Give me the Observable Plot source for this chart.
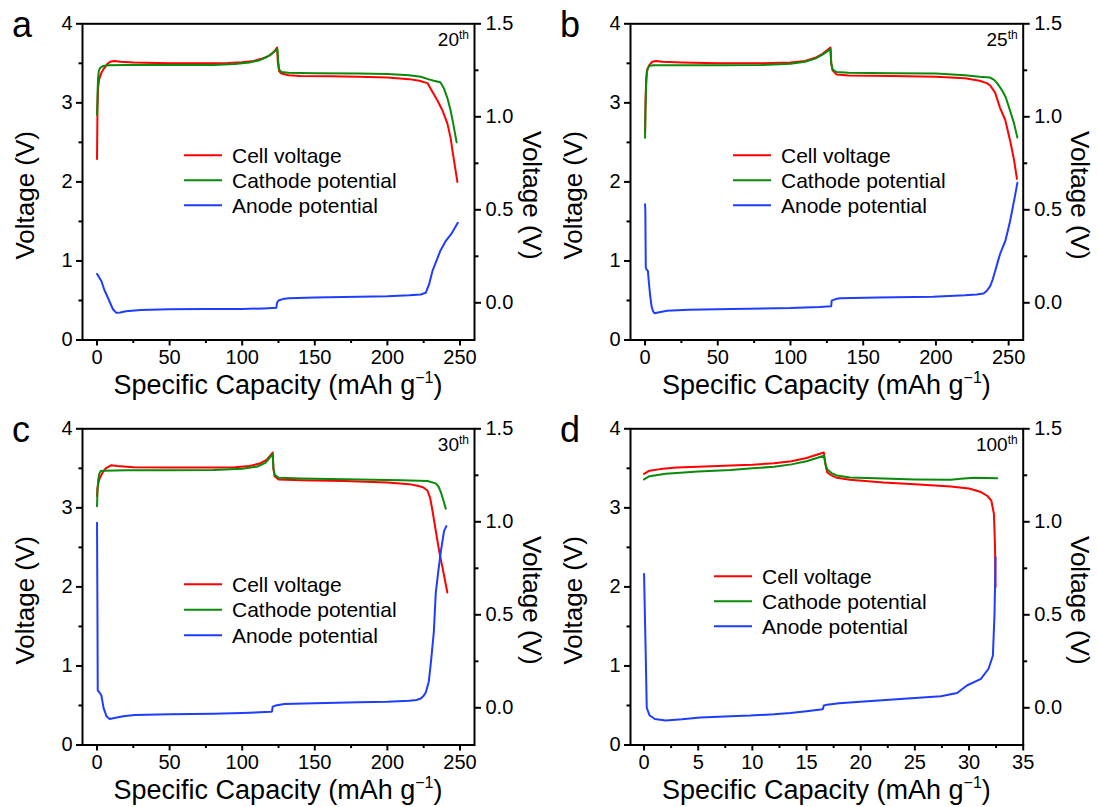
<!DOCTYPE html>
<html><head><meta charset="utf-8">
<script src="https://cdn.jsdelivr.net/npm/d3@7"></script>
<script src="https://cdn.jsdelivr.net/npm/@observablehq/plot@0.6"></script>
<style>
body{margin:0;background:#fff;}
#fig{position:relative;width:1098px;height:807px;overflow:hidden;font-family:"Liberation Sans",Arial,sans-serif;}
.panel{position:absolute;}
#overlay{position:absolute;left:0;top:0;pointer-events:none;}
</style></head><body><div id="fig"></div>
<script>
// ---------- data (capacity mAh/g, voltage V) ----------
const leftTicks = [0, 1, 2, 3, 4];
const leftMinor = [0.5, 1.5, 2.5, 3.5];
const rightTicks = [0.0, 0.5, 1.0, 1.5];
const rightMinor = [0.25, 0.75, 1.25];
const xTicks250 = [0, 50, 100, 150, 200, 250];
const xMinor250 = [25, 75, 125, 175, 225];
const xTicks35 = [0, 5, 10, 15, 20, 25, 30, 35];
const xMinor35 = [2.5, 7.5, 12.5, 17.5, 22.5, 27.5, 32.5];
const seriesNames = ["Cell voltage", "Cathode potential", "Anode potential"];
const cycles = ["20", "25", "30", "100"];
const panelLetters = ["a", "b", "c", "d"];

// panel a (20th cycle)
const aCell = [[0,2.29],[0.3,2.9],[0.8,3.2],[1.5,3.3],[3,3.38],[5,3.44],[7,3.49],[9,3.52],[12,3.53],[16,3.52],[25,3.51],[50,3.50],[75,3.50],[90,3.505],[100,3.515],[108,3.53],[114,3.56],[119,3.60],[122,3.65],[124,3.70],[124.6,3.50],[125.5,3.40],[127,3.37],[132,3.35],[140,3.34],[160,3.335],[180,3.33],[200,3.32],[215,3.30],[222,3.28],[227.6,3.25],[231,3.14],[234.5,3.03],[238,2.90],[241.3,2.74],[243.5,2.56],[244.8,2.40],[246.5,2.2],[248.2,2.0]];
const aCath = [[0,2.85],[0.3,3.1],[0.7,3.3],[1.2,3.40],[2,3.44],[4,3.465],[8,3.475],[20,3.48],[50,3.48],[80,3.48],[95,3.49],[105,3.51],[112,3.54],[117,3.58],[121,3.63],[124.3,3.68],[124.8,3.52],[125.5,3.42],[127,3.39],[132,3.38],[150,3.375],[180,3.37],[200,3.365],[215,3.35],[223,3.33],[228,3.30],[232,3.28],[236.5,3.26],[239,3.18],[241.5,3.05],[243.6,2.90],[245.2,2.75],[246.6,2.61],[247.7,2.50]];
const aAnode = [[0,0.155],[0.5,0.15],[3,0.117],[5,0.07],[7.5,0.027],[11,-0.035],[13.3,-0.054],[16,-0.052],[20,-0.045],[30,-0.039],[50,-0.035],[75,-0.034],[100,-0.033],[115,-0.03],[123.5,-0.027],[124,0.0],[125,0.012],[128,0.02],[132,0.025],[150,0.028],[180,0.032],[200,0.035],[215,0.04],[223,0.045],[226.4,0.054],[228.7,0.099],[231,0.17],[234.5,0.24],[236.5,0.28],[240,0.33],[244,0.37],[248.5,0.43]];

// panel b (25th cycle)
const bCell = [[0,2.62],[0.3,3.0],[0.8,3.3],[1.5,3.42],[3,3.48],[5,3.52],[7.5,3.53],[12,3.52],[25,3.51],[50,3.50],[80,3.50],[100,3.51],[110,3.53],[117,3.57],[122,3.62],[127.5,3.70],[128,3.50],[129,3.41],[131.6,3.36],[140,3.345],[170,3.34],[200,3.33],[220,3.31],[230,3.28],[235,3.25],[237.3,3.22],[240.7,3.13],[244,2.94],[247.7,2.78],[251,2.52],[253.5,2.30],[255.7,2.04]];
const bCath = [[0,2.56],[0.3,2.9],[0.7,3.2],[1.2,3.38],[2,3.44],[3,3.47],[6,3.475],[20,3.475],[50,3.475],[80,3.48],[100,3.495],[110,3.52],[117,3.56],[122,3.61],[127.5,3.68],[128,3.50],[129,3.42],[131.6,3.39],[140,3.38],[170,3.375],[200,3.37],[220,3.35],[230,3.33],[237.3,3.32],[240,3.29],[242,3.25],[244,3.20],[246,3.14],[248,3.07],[251,2.90],[253.7,2.74],[256,2.56]];
const bAnode = [[0,0.53],[0.2,0.50],[0.5,0.19],[1,0.18],[2,0.17],[2.5,0.12],[3.5,0.04],[4.5,-0.02],[5.5,-0.045],[6.5,-0.056],[9,-0.052],[15,-0.043],[30,-0.037],[60,-0.033],[100,-0.028],[120,-0.022],[128,-0.018],[128.3,0.012],[131,0.02],[134,0.024],[160,0.028],[198,0.032],[220,0.04],[228,0.045],[232.7,0.05],[235,0.065],[237.3,0.09],[239,0.125],[240.7,0.17],[242.5,0.22],[244,0.26],[246,0.30],[247.6,0.33],[249.5,0.39],[251,0.44],[252.5,0.50],[254,0.56],[256,0.645]];

// panel c (30th cycle)
const cCell = [[0,3.15],[0.3,3.25],[1,3.32],[2,3.38],[4,3.45],[6,3.50],[9.9,3.54],[14,3.53],[25,3.515],[50,3.51],[80,3.51],[95,3.515],[105,3.53],[112,3.56],[117,3.61],[121,3.70],[121.5,3.50],[122.3,3.40],[125,3.36],[140.7,3.35],[170,3.34],[200,3.32],[215,3.30],[220.7,3.28],[224.5,3.26],[227.6,3.22],[229.5,3.12],[231,2.97],[232.7,2.78],[234.4,2.59],[236,2.42],[237.9,2.25],[239.6,2.09],[241.3,1.93]];
const cCath = [[0,3.02],[0.3,3.2],[0.8,3.35],[1.5,3.43],[2.5,3.465],[5,3.47],[20,3.475],[50,3.475],[80,3.48],[100,3.495],[110,3.52],[116,3.57],[121,3.68],[121.5,3.50],[122.3,3.42],[125,3.38],[140.7,3.37],[180,3.36],[210,3.35],[227.6,3.34],[233.3,3.31],[235.2,3.27],[236.8,3.20],[238.5,3.10],[240.2,2.99]];
const cAnode = [[0,0.995],[0.3,0.5],[0.5,0.093],[1.5,0.085],[3,0.066],[4.5,0.0],[6.5,-0.045],[8.7,-0.06],[12,-0.055],[18,-0.045],[25.9,-0.039],[50,-0.035],[80,-0.032],[100,-0.028],[119.8,-0.021],[120.5,-0.02],[121,0.006],[123,0.012],[129,0.02],[150,0.025],[180,0.03],[200,0.033],[215,0.038],[220,0.042],[223,0.05],[225,0.065],[226.5,0.084],[228.5,0.14],[230,0.246],[232,0.41],[233.3,0.616],[235,0.73],[236.8,0.84],[239,0.95],[240.6,0.977]];

// panel d (100th cycle)
const dCell = [[0,3.43],[0.5,3.47],[1.5,3.49],[3,3.51],[5,3.52],[8,3.535],[10,3.545],[12,3.565],[13.6,3.59],[15,3.63],[16.6,3.70],[16.75,3.55],[16.9,3.45],[17.3,3.41],[17.8,3.38],[19,3.355],[22.1,3.32],[25,3.30],[28.3,3.27],[30,3.245],[31.1,3.20],[31.7,3.15],[32.06,3.09],[32.3,2.92],[32.4,2.5],[32.45,2.0]];
const dCath = [[0,3.36],[0.5,3.40],[2,3.43],[5,3.46],[8,3.48],[10,3.50],[12,3.52],[13.6,3.55],[15,3.59],[16.6,3.66],[16.75,3.55],[16.9,3.49],[17.3,3.44],[17.8,3.41],[19,3.385],[22.1,3.37],[25,3.36],[28.3,3.355],[29.5,3.37],[30.5,3.38],[32.6,3.375]];
const dAnode = [[0,0.72],[0.15,0.3],[0.25,0.0],[0.5,-0.04],[1,-0.06],[2,-0.068],[3.5,-0.062],[5.2,-0.052],[8,-0.045],[9.8,-0.042],[12,-0.035],[13.5,-0.028],[15,-0.018],[16.5,-0.008],[16.6,0.012],[16.9,0.017],[18,0.025],[20.3,0.034],[24,0.048],[27.4,0.062],[28.9,0.08],[29.8,0.12],[31.1,0.156],[31.8,0.21],[32.2,0.28],[32.35,0.5],[32.45,0.81]];

// ---------- styling / layout ----------
const COLORS = ["#ff0000", "#0a8a0a", "#1f3dff"];
const LEFT_DOMAIN = [0, 4];
const RIGHT_DOMAIN = [-0.2, 1.5];
const toLeft = r => (r - RIGHT_DOMAIN[0]) / (RIGHT_DOMAIN[1] - RIGHT_DOMAIN[0]) * (LEFT_DOMAIN[1] - LEFT_DOMAIN[0]) + LEFT_DOMAIN[0];
const fromLeft = l => (l - LEFT_DOMAIN[0]) / (LEFT_DOMAIN[1] - LEFT_DOMAIN[0]) * (RIGHT_DOMAIN[1] - RIGHT_DOMAIN[0]) + RIGHT_DOMAIN[0];
const FONT = "Liberation Sans, Arial, sans-serif";

const panels = [
  {ox:0, oy:0, w:549, h:404, frame:[82,474,23.3,339.5], xdom:[-10,260], xt:xTicks250, xm:xMinor250, data:[aCell,aCath,aAnode], leg:[102,132,25]},
  {ox:549, oy:0, w:549, h:404, frame:[630,1022.7,23.3,339.5], xdom:[-10,260], xt:xTicks250, xm:xMinor250, data:[bCell,bCath,bAnode], leg:[103,132,25]},
  {ox:0, oy:404, w:549, h:403, frame:[82,474,428.3,744.5], xdom:[-10,260], xt:xTicks250, xm:xMinor250, data:[cCell,cCath,cAnode], leg:[102,156,25.5]},
  {ox:549, oy:404, w:549, h:403, frame:[630,1022.7,428.3,744.5], xdom:[-1.25,35], xt:xTicks35, xm:xMinor35, data:[dCell,dCath,dAnode], leg:[84,148,25]}
];

const fig = document.getElementById("fig");
const blank = () => "";
const fmtR = d => (Math.round(fromLeft(d) * 10) / 10).toFixed(1);

panels.forEach((p, i) => {
  const [fx0, fx1, fy0, fy1] = p.frame;
  const chart = Plot.plot({
    width: p.w, height: p.h,
    marginLeft: fx0 - p.ox, marginRight: p.ox + p.w - fx1,
    marginTop: fy0 - p.oy, marginBottom: p.oy + p.h - fy1,
    style: {fontFamily: FONT, fontSize: "20px", color: "#000", background: "transparent", overflow: "visible"},
    x: {domain: p.xdom},
    y: {domain: LEFT_DOMAIN},
    marks: [
      Plot.axisX(p.xt, {tickSize: 6, tickPadding: 4, strokeWidth: 2, fontSize: 20, label: null, tickFormat: d => String(d)}),
      Plot.axisX(p.xm, {tickSize: 3.5, strokeWidth: 2, label: null, tickFormat: blank}),
      Plot.axisY(leftTicks, {tickSize: 6, tickPadding: 4, strokeWidth: 2, fontSize: 20, label: null, tickFormat: d => String(d)}),
      Plot.axisY(leftMinor, {tickSize: 3.5, strokeWidth: 2, label: null, tickFormat: blank}),
      Plot.axisY(rightTicks.map(toLeft), {anchor: "right", tickSize: 6, tickPadding: 5, strokeWidth: 2, fontSize: 20, label: null, tickFormat: fmtR}),
      Plot.axisY(rightMinor.map(toLeft), {anchor: "right", tickSize: 3.5, strokeWidth: 2, label: null, tickFormat: blank}),
      Plot.line(p.data[0], {x: d => d[0], y: d => d[1], stroke: COLORS[0], strokeWidth: 2}),
      Plot.line(p.data[1], {x: d => d[0], y: d => d[1], stroke: COLORS[1], strokeWidth: 2}),
      Plot.line(p.data[2], {x: d => d[0], y: d => toLeft(d[1]), stroke: COLORS[2], strokeWidth: 2}),
      Plot.frame({stroke: "#000", strokeWidth: 2})
    ]
  });
  chart.classList.add("panel");
  chart.style.left = p.ox + "px";
  chart.style.top = p.oy + "px";
  fig.appendChild(chart);
});

// ---------- overlay texts: letters, cycle labels, legends, axis titles ----------
const svg = d3.select(fig).append("svg").attr("id", "overlay")
  .attr("width", 1098).attr("height", 807)
  .style("font-family", FONT).attr("fill", "#000");

panels.forEach((p, i) => {
  const [fx0, fx1, fy0, fy1] = p.frame;
  // panel letter
  svg.append("text").attr("x", fx0 - 70).attr("y", fy0 + 14).attr("font-size", 36).text(panelLetters[i]);
  // cycle label
  const c = svg.append("text").attr("x", fx1 - 5).attr("y", fy0 + 22.5).attr("text-anchor", "end").attr("font-size", 19);
  c.append("tspan").text(cycles[i]);
  c.append("tspan").attr("font-size", 12).attr("dy", -7).text("th");
  // legend
  const [lx, ly, lstep] = p.leg;
  seriesNames.forEach((name, k) => {
    const y = fy0 + ly + k * lstep;
    svg.append("line").attr("x1", fx0 + lx).attr("x2", fx0 + lx + 38).attr("y1", y).attr("y2", y)
      .attr("stroke", COLORS[k]).attr("stroke-width", 2);
    svg.append("text").attr("x", fx0 + lx + 48).attr("y", y + 7.5).attr("font-size", 21).text(name);
  });
  // x title
  const xt = svg.append("text").attr("x", (fx0 + fx1) / 2).attr("y", fy1 + 54.5)
    .attr("text-anchor", "middle").attr("font-size", 27);
  xt.append("tspan").text("Specific Capacity (mAh g");
  xt.append("tspan").attr("font-size", 16).attr("dy", -11).text("\u22121");
  xt.append("tspan").attr("dy", 11).text(")");
  // y titles
  const cy = fy0 + 172;
  svg.append("text").attr("transform", `translate(${fx0 - 57},${cy}) rotate(-90)`)
    .attr("text-anchor", "middle").attr("dy", "0.36em").attr("font-size", 26).text("Voltage (V)");
  svg.append("text").attr("transform", `translate(${fx1 + 58},${cy}) rotate(90)`)
    .attr("text-anchor", "middle").attr("dy", "0.36em").attr("font-size", 26).text("Voltage (V)");
});
</script></body></html>
